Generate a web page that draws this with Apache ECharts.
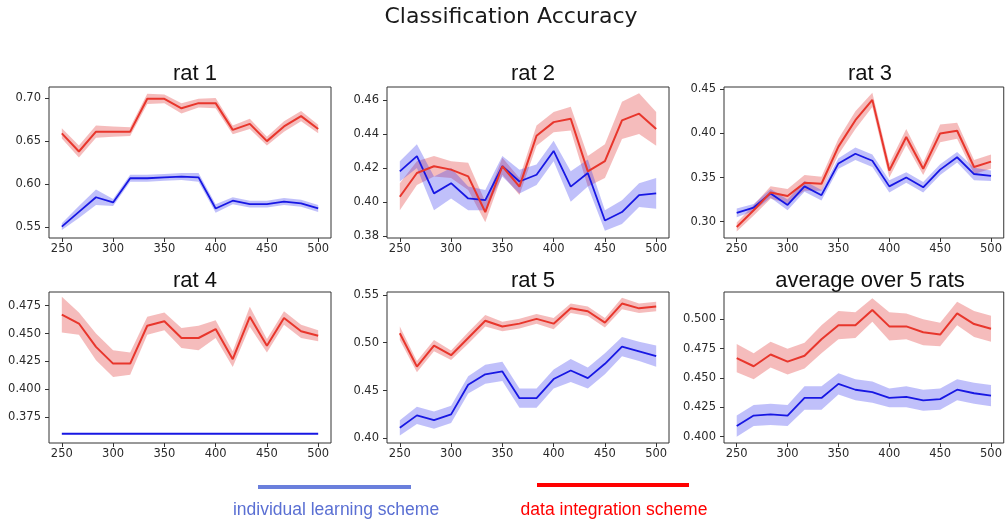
<!DOCTYPE html>
<html>
<head>
<meta charset="utf-8">
<title>Classification Accuracy</title>
<script src="https://cdn.jsdelivr.net/npm/echarts@6/dist/echarts.min.js"></script>
<style>
  html, body { margin: 0; padding: 0; background: #ffffff; }
  #chart { width: 1005px; height: 525px; }
</style>
</head>
<body>
<div id="chart"></div>
<script>
// Number of training samples (x positions shared by every panel)
const xVals = [250, 266.67, 283.33, 300, 316.67, 333.33, 350, 366.67, 383.33, 400, 416.67, 433.33, 450, 466.67, 483.33, 500];
const xTicks = [250, 300, 350, 400, 450, 500];

// rat 1
const r1Red     = [0.659, 0.638, 0.661, 0.661, 0.661, 0.699, 0.699, 0.688, 0.694, 0.694, 0.663, 0.670, 0.650, 0.667, 0.679, 0.664];
const r1RedErr  = [0.006, 0.007, 0.007, 0.006, 0.005, 0.006, 0.005, 0.006, 0.005, 0.006, 0.005, 0.006, 0.005, 0.006, 0.006, 0.005];
const r1Blue    = [0.551, 0.568, 0.585, 0.579, 0.607, 0.607, 0.608, 0.609, 0.608, 0.572, 0.581, 0.577, 0.577, 0.580, 0.578, 0.572];
const r1BlueErr = [0.004, 0.007, 0.009, 0.004, 0.004, 0.004, 0.004, 0.004, 0.005, 0.005, 0.004, 0.004, 0.004, 0.004, 0.004, 0.004];
const r1Ticks   = [0.55, 0.60, 0.65, 0.70];

// rat 2
const r2Red     = [0.403, 0.417, 0.421, 0.419, 0.415, 0.394, 0.421, 0.409, 0.439, 0.447, 0.449, 0.418, 0.424, 0.448, 0.452, 0.443];
const r2RedErr  = [0.008, 0.007, 0.006, 0.005, 0.008, 0.006, 0.005, 0.005, 0.006, 0.006, 0.007, 0.009, 0.010, 0.011, 0.012, 0.010];
const r2Blue    = [0.418, 0.427, 0.405, 0.411, 0.402, 0.401, 0.421, 0.412, 0.416, 0.430, 0.409, 0.417, 0.389, 0.394, 0.404, 0.405];
const r2BlueErr = [0.006, 0.007, 0.010, 0.009, 0.007, 0.006, 0.006, 0.007, 0.006, 0.006, 0.009, 0.008, 0.006, 0.007, 0.007, 0.009];
const r2Ticks   = [0.38, 0.40, 0.42, 0.44, 0.46];

// rat 3
const r3Red     = [0.294, 0.313, 0.333, 0.329, 0.344, 0.343, 0.385, 0.415, 0.438, 0.358, 0.396, 0.360, 0.400, 0.403, 0.362, 0.368];
const r3RedErr  = [0.005, 0.006, 0.007, 0.008, 0.009, 0.008, 0.009, 0.010, 0.008, 0.008, 0.009, 0.007, 0.010, 0.009, 0.008, 0.008];
const r3Blue    = [0.310, 0.316, 0.332, 0.319, 0.340, 0.330, 0.366, 0.377, 0.369, 0.340, 0.350, 0.339, 0.359, 0.373, 0.354, 0.352];
const r3BlueErr = [0.005, 0.004, 0.005, 0.006, 0.006, 0.006, 0.006, 0.007, 0.007, 0.007, 0.006, 0.006, 0.006, 0.006, 0.007, 0.006];
const r3Ticks   = [0.30, 0.35, 0.40, 0.45];

// rat 4
const r4Red     = [0.467, 0.459, 0.438, 0.423, 0.423, 0.457, 0.461, 0.446, 0.446, 0.454, 0.427, 0.465, 0.439, 0.464, 0.452, 0.448];
const r4RedErr  = [0.016, 0.010, 0.012, 0.012, 0.010, 0.008, 0.008, 0.009, 0.011, 0.008, 0.007, 0.009, 0.006, 0.006, 0.006, 0.005];
const r4Blue    = [0.360, 0.360, 0.360, 0.360, 0.360, 0.360, 0.360, 0.360, 0.360, 0.360, 0.360, 0.360, 0.360, 0.360, 0.360, 0.360];
const r4BlueErr = [0, 0, 0, 0, 0, 0, 0, 0, 0, 0, 0, 0, 0, 0, 0, 0];
const r4Ticks   = [0.375, 0.400, 0.425, 0.450, 0.475];

// rat 5
const r5Red     = [0.510, 0.475, 0.497, 0.487, 0.505, 0.523, 0.517, 0.520, 0.525, 0.520, 0.536, 0.533, 0.521, 0.541, 0.536, 0.538];
const r5RedErr  = [0.007, 0.006, 0.006, 0.005, 0.006, 0.006, 0.005, 0.005, 0.005, 0.006, 0.005, 0.005, 0.005, 0.006, 0.005, 0.005];
const r5Blue    = [0.411, 0.424, 0.419, 0.425, 0.456, 0.467, 0.470, 0.442, 0.442, 0.462, 0.471, 0.463, 0.478, 0.496, 0.491, 0.486];
const r5BlueErr = [0.008, 0.009, 0.009, 0.009, 0.009, 0.010, 0.010, 0.010, 0.010, 0.010, 0.012, 0.011, 0.011, 0.010, 0.010, 0.011];
const r5Ticks   = [0.40, 0.45, 0.50, 0.55];

// average over 5 rats
const avRed     = [0.467, 0.460, 0.470, 0.464, 0.469, 0.483, 0.495, 0.495, 0.508, 0.494, 0.494, 0.489, 0.487, 0.505, 0.496, 0.492];
const avRedErr  = [0.012, 0.011, 0.011, 0.011, 0.011, 0.012, 0.012, 0.011, 0.010, 0.012, 0.011, 0.011, 0.010, 0.010, 0.011, 0.011];
const avBlue    = [0.409, 0.418, 0.419, 0.418, 0.433, 0.433, 0.445, 0.440, 0.438, 0.433, 0.434, 0.431, 0.432, 0.440, 0.437, 0.435];
const avBlueErr = [0.009, 0.009, 0.009, 0.009, 0.010, 0.010, 0.009, 0.009, 0.009, 0.008, 0.009, 0.009, 0.009, 0.009, 0.009, 0.009];
const avTicks   = [0.400, 0.425, 0.450, 0.475, 0.500];

const panelTitles = ['rat 1', 'rat 2', 'rat 3', 'rat 4', 'rat 5', 'average over 5 rats'];
const legendNames = ['individual learning scheme', 'data integration scheme'];

// Panel setup: data plus placement of each subplot
const panels = [
  { red: r1Red, redErr: r1RedErr, blue: r1Blue, blueErr: r1BlueErr, ticks: r1Ticks, dec: 2, yMin: 0.5378, yMax: 0.7127, left: 49,  top: 87,  titleTop: 58 },
  { red: r2Red, redErr: r2RedErr, blue: r2Blue, blueErr: r2BlueErr, ticks: r2Ticks, dec: 2, yMin: 0.3787, yMax: 0.4677, left: 387, top: 87,  titleTop: 58 },
  { red: r3Red, redErr: r3RedErr, blue: r3Blue, blueErr: r3BlueErr, ticks: r3Ticks, dec: 2, yMin: 0.2815, yMax: 0.4526, left: 724, top: 87,  titleTop: 58 },
  { red: r4Red, redErr: r4RedErr, blue: r4Blue, blueErr: r4BlueErr, ticks: r4Ticks, dec: 3, yMin: 0.3517, yMax: 0.4873, left: 49,  top: 292, titleTop: 265 },
  { red: r5Red, redErr: r5RedErr, blue: r5Blue, blueErr: r5BlueErr, ticks: r5Ticks, dec: 2, yMin: 0.3951, yMax: 0.5531, left: 387, top: 292, titleTop: 265 },
  { red: avRed, redErr: avRedErr, blue: avBlue, blueErr: avBlueErr, ticks: avTicks, dec: 3, yMin: 0.3946, yMax: 0.5233, left: 724, top: 292, titleTop: 265 }
];

const PANEL_W = 282;
const PANEL_H = 151;

const RED_LINE = '#e8362c';
const RED_BAND = 'rgba(226, 70, 70, 0.36)';
const BLUE_LINE = '#1717e3';
const BLUE_BAND = 'rgba(45, 45, 240, 0.30)';

const tickFont = 'DejaVu Sans';
const titleFont = 'Liberation Sans, Arial, sans-serif';

const grids = [], xAxes = [], yAxes = [], series = [], titles = [];

titles.push({
  text: 'Classification Accuracy',
  left: 506, top: 1, textAlign: 'center',
  textStyle: { fontFamily: tickFont, fontSize: 22, fontWeight: 'normal', color: '#1a1a1a' }
});

function pairs(values) {
  return values.map((v, i) => [xVals[i], v]);
}

// Shaded mean ± err band, drawn as one polygon through the axis scales
function bandSeries(idx, mean, err, fill) {
  const rows = mean.map((m, i) => [xVals[i], m - err[i], m + err[i]]);
  return {
    type: 'custom', xAxisIndex: idx, yAxisIndex: idx, silent: true,
    data: rows,
    encode: { x: 0, y: [1, 2] },
    renderItem: function (params, api) {
      if (params.dataIndex !== 0) return null;
      const upper = rows.map(r => api.coord([r[0], r[2]]));
      const lower = rows.map(r => api.coord([r[0], r[1]])).reverse();
      return {
        type: 'polygon',
        shape: { points: upper.concat(lower) },
        style: { fill: fill, stroke: null }
      };
    }
  };
}

panels.forEach((p, idx) => {
  grids.push({
    left: p.left, top: p.top, width: PANEL_W, height: PANEL_H,
    show: true, borderColor: '#333333', borderWidth: 1, backgroundColor: '#ffffff'
  });
  xAxes.push({
    type: 'value', gridIndex: idx, min: 237.5, max: 512.5,
    axisLine: { show: false },
    splitLine: { show: false },
    axisTick: { show: true, length: 4, lineStyle: { color: '#333333' }, customValues: xTicks },
    axisLabel: { customValues: xTicks, margin: 5, fontFamily: tickFont, fontSize: 11.5, color: '#2a2a2a' }
  });
  yAxes.push({
    type: 'value', gridIndex: idx, min: p.yMin, max: p.yMax,
    axisLine: { show: false },
    splitLine: { show: false },
    axisTick: { show: true, length: 4, lineStyle: { color: '#333333' }, customValues: p.ticks },
    axisLabel: {
      customValues: p.ticks, margin: 8, fontFamily: tickFont, fontSize: 11.5, color: '#2a2a2a',
      formatter: v => v.toFixed(p.dec)
    }
  });
  titles.push({
    text: panelTitles[idx],
    left: p.left + PANEL_W / 2, top: p.titleTop, textAlign: 'center',
    textStyle: { fontFamily: titleFont, fontSize: 22, fontWeight: 'normal', color: '#111111' }
  });

  series.push(bandSeries(idx, p.red, p.redErr, RED_BAND));
  series.push(bandSeries(idx, p.blue, p.blueErr, BLUE_BAND));
  series.push({
    type: 'line', xAxisIndex: idx, yAxisIndex: idx, name: legendNames[0],
    data: pairs(p.blue), symbol: 'none', silent: true,
    lineStyle: { color: BLUE_LINE, width: 1.8 }
  });
  series.push({
    type: 'line', xAxisIndex: idx, yAxisIndex: idx, name: legendNames[1],
    data: pairs(p.red), symbol: 'none', silent: true,
    lineStyle: { color: RED_LINE, width: 2 }
  });
});

// Legend drawn as a coloured bar above each caption
const graphic = [
  { type: 'line', shape: { x1: 258, y1: 487, x2: 411, y2: 487 }, style: { stroke: '#6a7fdc', lineWidth: 4 } },
  { type: 'line', shape: { x1: 537, y1: 485, x2: 689, y2: 485 }, style: { stroke: '#ff0000', lineWidth: 4 } },
  { type: 'text', x: 336, y: 510, style: { text: legendNames[0], fill: '#5a6fd3', font: '17.5px "Liberation Sans", Arial, sans-serif', align: 'center', verticalAlign: 'middle' } },
  { type: 'text', x: 614, y: 510, style: { text: legendNames[1], fill: '#ff0000', font: '17.5px "Liberation Sans", Arial, sans-serif', align: 'center', verticalAlign: 'middle' } }
];

const chart = echarts.init(document.getElementById('chart'), null, { renderer: 'canvas' });
chart.setOption({
  animation: false,
  backgroundColor: '#ffffff',
  title: titles,
  grid: grids,
  xAxis: xAxes,
  yAxis: yAxes,
  series: series,
  graphic: graphic
});
</script>
</body>
</html>
